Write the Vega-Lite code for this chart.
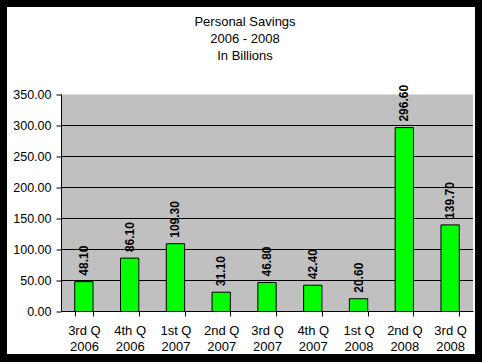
{
  "$schema": "https://vega.github.io/schema/vega-lite/v6.json",
  "width": 468,
  "height": 347,
  "autosize": "none",
  "padding": {"left": 7, "top": 7, "right": 7, "bottom": 8},
  "background": "black",
  "config": {
    "view": {"fill": "white", "stroke": null},
    "font": "Liberation Sans"
  },
  "title": {
    "text": ["Personal Savings", "2006 - 2008", "In Billions"],
    "fontSize": 13,
    "fontWeight": "normal",
    "lineHeight": 17,
    "anchor": "middle",
    "frame": "group",
    "baseline": "top",
    "offset": -56,
    "dx": 4,
    "color": "black"
  },
  "layer": [
    {
      "layer": [
        {
          "data": {"values": [{}]},
          "mark": {"type": "rect", "fill": "#C0C0C0"},
          "encoding": {
            "x": {"datum": 0, "type": "quantitative", "scale": {"domain": [0, 1], "range": [54, 466], "nice": false, "zero": false}, "axis": null},
            "x2": {"datum": 1},
            "y": {"datum": 0, "type": "quantitative"},
            "y2": {"datum": 350}
          }
        },
        {
          "data": {"values": [{"level": 50}, {"level": 100}, {"level": 150}, {"level": 200}, {"level": 250}, {"level": 300}]},
          "mark": {"type": "rule", "color": "black", "strokeWidth": 1},
          "encoding": {
            "x": {"datum": 0, "type": "quantitative", "axis": null},
            "x2": {"datum": 1},
            "y": {"field": "level", "type": "quantitative"}
          }
        }
      ]
    },
    {
      "data": {
        "values": [
          {"period": "3rd Q 2006", "savings": 48.10},
          {"period": "4th Q 2006", "savings": 86.10},
          {"period": "1st Q 2007", "savings": 109.30},
          {"period": "2nd Q 2007", "savings": 31.10},
          {"period": "3rd Q 2007", "savings": 46.80},
          {"period": "4th Q 2007", "savings": 42.40},
          {"period": "1st Q 2008", "savings": 20.60},
          {"period": "2nd Q 2008", "savings": 296.60},
          {"period": "3rd Q 2008", "savings": 139.70}
        ]
      },
      "encoding": {
        "x": {
          "field": "period",
          "type": "nominal",
          "sort": null,
          "scale": {"range": [54, 466], "paddingInner": 0.6, "paddingOuter": 0.3},
          "axis": {
            "title": null,
            "labelAngle": 0,
            "labelExpr": "[slice(datum.label, 0, 5), slice(datum.label, 6)]",
            "labelFontSize": 13,
            "labelLineHeight": 16,
            "labelPadding": 8,
            "labelColor": "black",
            "tickBand": "extent",
            "tickSize": 5,
            "tickColor": "black",
            "domainColor": "black",
            "grid": false,
            "offset": -43,
            "zindex": 1
          }
        },
        "y": {
          "field": "savings",
          "type": "quantitative",
          "scale": {"domain": [0, 350], "range": [304.5, 87.5], "nice": false, "zero": true},
          "axis": {
            "title": null,
            "values": [0, 50, 100, 150, 200, 250, 300, 350],
            "format": ".2f",
            "labelFontSize": 12.5,
            "labelColor": "black",
            "labelPadding": 5,
            "tickSize": 5,
            "tickColor": "black",
            "domainColor": "black",
            "grid": false,
            "translate": 0,
            "offset": -54.5,
            "zindex": 1
          }
        }
      },
      "layer": [
        {
          "mark": {"type": "bar", "fill": "#00FF00", "stroke": "black", "strokeWidth": 1}
        },
        {
          "mark": {"type": "text", "angle": 270, "align": "left", "baseline": "middle", "dx": 6, "fontSize": 12, "fontWeight": "bold", "color": "black"},
          "encoding": {
            "text": {"field": "savings", "type": "quantitative", "format": ".2f"}
          }
        }
      ]
    }
  ],
  "resolve": {"scale": {"x": "independent"}}
}
